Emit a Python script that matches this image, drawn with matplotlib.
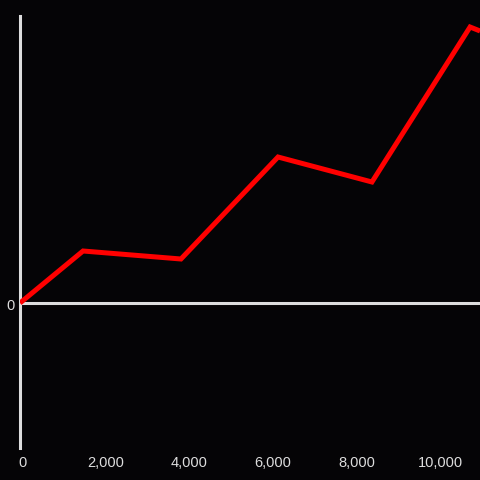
import matplotlib
matplotlib.use("Agg")
import matplotlib.pyplot as plt
from matplotlib.transforms import ScaledTranslation

x_values = [0, 1510, 3855, 6180, 8430, 10780, 11020]
y_values = [0, 52, 44, 146, 121, 276, 272]
x_ticks = [0, 2000, 4000, 6000, 8000, 10000]
x_tick_labels = ["0", "2,000", "4,000", "6,000", "8,000", "10,000"]

bg = "#050406"
axis_col = "#dddddd"

plt.rcParams['font.family'] = ['Liberation Sans', 'DejaVu Sans']
fig = plt.figure(figsize=(4.8, 4.8), dpi=100, facecolor=bg)
ax = fig.add_axes([20/480, 32/480, 460/480, 432/480], facecolor=bg)

ax.set_xlim(0, 11018)
ax.set_ylim(-145, 287)

ax.axhline(0, color=axis_col, lw=2.2, zorder=2)
ax.plot(x_values, y_values, color="#ff0000", lw=3.6, solid_joinstyle='miter',
        solid_capstyle='butt', zorder=3, clip_on=True)

for s in ["top", "right", "bottom"]:
    ax.spines[s].set_visible(False)
ax.spines["left"].set_color(axis_col)
ax.spines["left"].set_linewidth(2.2)

ax.set_xticks(x_ticks)
ax.set_xticklabels(x_tick_labels)
ax.set_yticks([0])
ax.set_yticklabels(["0"])
ax.tick_params(axis='x', length=0, pad=6, colors=axis_col, labelsize=10.5)
ax.tick_params(axis='y', length=0, pad=4, colors=axis_col, labelsize=10.5)

off = ScaledTranslation(2.5/100, 0, fig.dpi_scale_trans)
for lbl in ax.get_xticklabels():
    lbl.set_transform(lbl.get_transform() + off)
offy = ScaledTranslation(0, -1/100, fig.dpi_scale_trans)
for lbl in ax.get_yticklabels():
    lbl.set_transform(lbl.get_transform() + offy)

fig.savefig("out.png", dpi=100, facecolor=bg)
